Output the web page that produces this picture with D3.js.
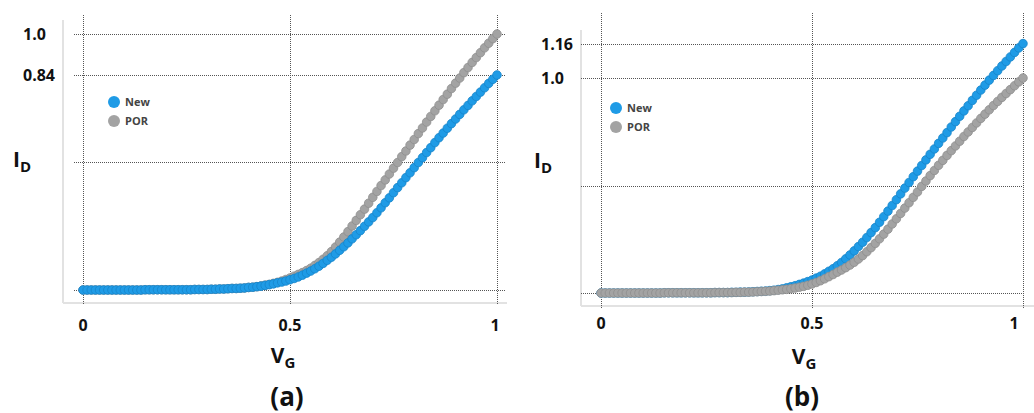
<!DOCTYPE html>
<html>
<head>
<meta charset="utf-8">
<script src="https://cdn.jsdelivr.net/npm/d3@7"></script>
<style>
  body { margin: 0; background: #fff; }
  svg { display: block; font-family: "Open Sans", "Noto Sans", sans-serif; }
  .grid line { stroke: #555; stroke-width: 1; stroke-dasharray: 1,1; }
  .frame { stroke: #e2e2e2; stroke-width: 2; }
  .tick-label { font-size: 16px; font-weight: bold; fill: #111; }
  .axis-title { font-size: 21px; font-weight: bold; fill: #111; }
  .panel-label { font-size: 26px; font-weight: bold; fill: #111; }
  .legend-text { font-size: 11px; font-weight: bold; fill: #444; }
</style>
</head>
<body>
<svg width="1034" height="413"></svg>
<script>
// gate voltage sweep (normalised)
var vG = [0,0.01,0.02,0.03,0.04,0.05,0.06,0.07,0.08,0.09,
  0.1,0.11,0.12,0.13,0.14,0.15,0.16,0.17,0.18,0.19,
  0.2,0.21,0.22,0.23,0.24,0.25,0.26,0.27,0.28,0.29,
  0.3,0.31,0.32,0.33,0.34,0.35,0.36,0.37,0.38,0.39,
  0.4,0.41,0.42,0.43,0.44,0.45,0.46,0.47,0.48,0.49,
  0.5,0.51,0.52,0.53,0.54,0.55,0.56,0.57,0.58,0.59,
  0.6,0.61,0.62,0.63,0.64,0.65,0.66,0.67,0.68,0.69,
  0.7,0.71,0.72,0.73,0.74,0.75,0.76,0.77,0.78,0.79,
  0.8,0.81,0.82,0.83,0.84,0.85,0.86,0.87,0.88,0.89,
  0.9,0.91,0.92,0.93,0.94,0.95,0.96,0.97,0.98,0.99,1];

// panel (a)
var porA = [0,0,0,0,0,0,0,0,0,0,
  0,0,0,0,0,0.001,0.001,0.001,0.001,0.001,
  0.001,0.001,0.001,0.001,0.001,0.001,0.001,0.002,0.002,0.002,
  0.002,0.003,0.003,0.004,0.004,0.005,0.006,0.006,0.007,0.008,
  0.010,0.011,0.013,0.016,0.019,0.022,0.026,0.030,0.035,0.041,
  0.047,0.054,0.061,0.068,0.076,0.085,0.096,0.107,0.120,0.134,
  0.150,0.168,0.187,0.207,0.228,0.250,0.272,0.294,0.316,0.339,
  0.362,0.385,0.408,0.430,0.453,0.476,0.498,0.521,0.543,0.566,
  0.588,0.611,0.633,0.656,0.678,0.700,0.722,0.744,0.765,0.787,
  0.808,0.828,0.849,0.869,0.889,0.908,0.927,0.946,0.964,0.982,1.000];
var newA = [0,0,0,0,0,0,0,0,0,0,
  0,0,0,0,0,0.001,0.001,0.001,0.001,0.001,
  0.001,0.001,0.001,0.001,0.001,0.001,0.001,0.002,0.002,0.002,
  0.002,0.003,0.003,0.004,0.004,0.005,0.006,0.006,0.007,0.008,
  0.010,0.011,0.013,0.015,0.018,0.021,0.024,0.028,0.031,0.035,
  0.040,0.045,0.051,0.058,0.066,0.074,0.083,0.093,0.104,0.116,
  0.128,0.141,0.155,0.169,0.184,0.200,0.216,0.232,0.249,0.266,
  0.283,0.302,0.321,0.341,0.360,0.380,0.400,0.419,0.439,0.458,
  0.478,0.498,0.517,0.537,0.556,0.576,0.595,0.613,0.632,0.650,
  0.668,0.686,0.704,0.721,0.739,0.756,0.773,0.790,0.807,0.823,0.840];

// panel (b)
var newB = [0,0,0,0,0,0,0,0,0,0,
  0,0,0,0,0,0.001,0.001,0.001,0.001,0.001,
  0.001,0.001,0.001,0.001,0.001,0.001,0.001,0.002,0.002,0.002,
  0.002,0.003,0.003,0.004,0.004,0.005,0.006,0.007,0.008,0.009,
  0.011,0.013,0.016,0.019,0.024,0.029,0.034,0.040,0.046,0.053,
  0.060,0.069,0.078,0.089,0.101,0.113,0.127,0.142,0.159,0.177,
  0.196,0.216,0.236,0.258,0.281,0.304,0.329,0.355,0.381,0.407,
  0.434,0.461,0.488,0.514,0.541,0.567,0.593,0.619,0.645,0.670,
  0.696,0.721,0.746,0.772,0.797,0.822,0.847,0.871,0.896,0.920,
  0.944,0.967,0.990,1.012,1.034,1.056,1.077,1.098,1.119,1.140,1.160];
var porB = [0,0,0,0,0,0,0,0,0,0,
  0,0,0,0,0,0.001,0.001,0.001,0.001,0.001,
  0.001,0.001,0.001,0.001,0.001,0.001,0.001,0.002,0.002,0.002,
  0.002,0.002,0.003,0.003,0.004,0.004,0.005,0.006,0.007,0.008,
  0.009,0.011,0.013,0.015,0.017,0.020,0.023,0.027,0.031,0.036,
  0.042,0.049,0.057,0.066,0.076,0.086,0.097,0.107,0.118,0.130,
  0.143,0.158,0.174,0.192,0.211,0.231,0.252,0.274,0.297,0.321,
  0.345,0.370,0.395,0.420,0.445,0.470,0.496,0.521,0.546,0.570,
  0.594,0.617,0.640,0.662,0.684,0.706,0.728,0.749,0.770,0.791,
  0.812,0.832,0.852,0.872,0.891,0.910,0.928,0.946,0.964,0.982,1.000];

var xTicks = [0, 0.5, 1];
var yGridA = [0, 0.5, 0.84, 1.0];
var yLabelsA = [0.84, 1.0];
var yGridB = [0, 0.5, 1.0, 1.16];
var yLabelsB = [1.0, 1.16];
var seriesNames = ["New", "POR"];

var colors = {
  New: { fill: "#1f9be6", stroke: "#1784c9" },
  POR: { fill: "#a3a3a3", stroke: "#8e8e8e" }
};

var svg = d3.select("svg");

function fmt(v) {
  return v === 1 ? "1.0" : String(v);
}

function draw_panel(p) {
  var g = svg.append("g");
  var x = d3.scaleLinear().domain([0, 1]).range([p.x0, p.x1]);
  var y = d3.scaleLinear().domain([0, 1]).range([p.y0, p.y1]);

  // light frame (left + bottom)
  g.append("line").attr("class", "frame")
    .attr("x1", p.fx).attr("x2", p.fx).attr("y1", p.ftop).attr("y2", p.fbot);
  g.append("line").attr("class", "frame")
    .attr("x1", p.fx).attr("x2", p.fright).attr("y1", p.fbot).attr("y2", p.fbot);

  // dotted grid
  var grid = g.append("g").attr("class", "grid");
  grid.selectAll(".vg").data(xTicks).enter().append("line")
    .attr("x1", function (d) { return Math.round(x(d)) + 0.5; })
    .attr("x2", function (d) { return Math.round(x(d)) + 0.5; })
    .attr("y1", p.gtop).attr("y2", p.fbot + 2);
  grid.selectAll(".hg").data(p.yGrid).enter().append("line")
    .attr("x1", p.gleft).attr("x2", p.gright)
    .attr("y1", function (d) { return Math.round(y(d)) + 0.5; })
    .attr("y2", function (d) { return Math.round(y(d)) + 0.5; });

  // tick labels
  g.selectAll(".xl").data(xTicks).enter().append("text")
    .attr("class", "tick-label")
    .attr("text-anchor", "middle")
    .attr("x", function (d) { return x(d) + (d === 1 ? p.lastDx : 0); })
    .attr("y", p.xLabelY)
    .text(function (d) { return d; });
  g.selectAll(".yl").data(p.yLabels).enter().append("text")
    .attr("class", "tick-label")
    .attr("x", p.yLabelX)
    .attr("y", function (d) { return y(d) + 6; })
    .text(fmt);

  // data points
  p.order.forEach(function (name) {
    var vals = p.data[name];
    g.append("g").selectAll("circle").data(vG).enter().append("circle")
      .attr("cx", function (d) { return x(d); })
      .attr("cy", function (d, i) { return y(vals[i]); })
      .attr("r", 4.3)
      .attr("fill", colors[name].fill)
      .attr("stroke", colors[name].stroke)
      .attr("stroke-width", 0.8);
  });

  // legend
  var lg = g.append("g").attr("transform", "translate(" + p.legX + "," + p.legY + ")");
  lg.selectAll("circle").data(seriesNames).enter().append("circle")
    .attr("cx", 0).attr("cy", function (d, i) { return i * 19; })
    .attr("r", 6)
    .attr("fill", function (d) { return colors[d].fill; });
  lg.selectAll("text").data(seriesNames).enter().append("text")
    .attr("class", "legend-text")
    .attr("x", 11).attr("y", function (d, i) { return i * 19 + 4; })
    .text(function (d) { return d; });

  // axis titles
  var id = g.append("text").attr("class", "axis-title")
    .attr("x", p.idX).attr("y", p.idY);
  id.append("tspan").text("I");
  id.append("tspan").attr("dy", 5).attr("font-size", 15).text("D");

  var vg = g.append("text").attr("class", "axis-title")
    .attr("x", p.vgX).attr("y", p.vgY).attr("text-anchor", "middle");
  vg.append("tspan").text("V");
  vg.append("tspan").attr("dy", 5).attr("font-size", 15).text("G");

  g.append("text").attr("class", "panel-label")
    .attr("x", p.capX).attr("y", 406).attr("text-anchor", "middle")
    .text(p.caption);
}

draw_panel({
  x0: 83, x1: 497, y0: 290, y1: 34,
  fx: 63, ftop: 20, fbot: 303, fright: 507,
  gtop: 15, gleft: 74, gright: 506,
  yGrid: yGridA, yLabels: yLabelsA,
  yLabelX: 23, xLabelY: 331, lastDx: -2,
  data: { New: newA, POR: porA }, order: ["POR", "New"],
  legX: 114, legY: 102,
  idX: 13, idY: 167, vgX: 283, vgY: 363,
  capX: 287, caption: "(a)"
});

draw_panel({
  x0: 601, x1: 1023, y0: 293, y1: 78,
  fx: 581, ftop: 30, fbot: 306, fright: 1034,
  gtop: 13, gleft: 581, gright: 1022,
  yGrid: yGridB, yLabels: yLabelsB,
  yLabelX: 541, xLabelY: 329, lastDx: -9,
  data: { New: newB, POR: porB }, order: ["New", "POR"],
  legX: 616, legY: 108,
  idX: 534, idY: 168, vgX: 804, vgY: 364,
  capX: 802, caption: "(b)"
});
</script>
</body>
</html>
